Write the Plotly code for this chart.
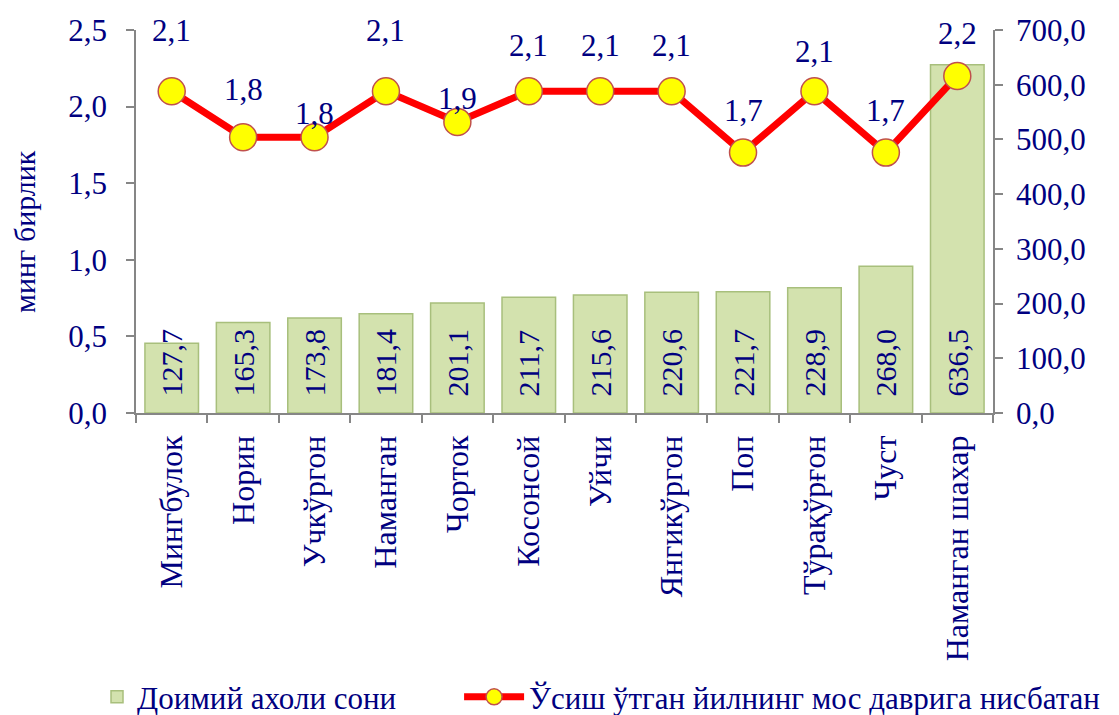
import plotly.graph_objects as go

categories = ["Мингбулок", "Норин", "Учкўргон", "Наманган", "Чорток", "Косонсой",
              "Уйчи", "Янгикўргон", "Поп", "Тўрақўрғон", "Чуст", "Наманган шахар"]
population = [127.7, 165.3, 173.8, 181.4, 201.1, 211.7, 215.6, 220.6, 221.7, 228.9, 268.0, 636.5]
growth = [2.1, 1.8, 1.8, 2.1, 1.9, 2.1, 2.1, 2.1, 1.7, 2.1, 1.7, 2.2]

bar_name = "Доимий ахоли сони"
line_name = "Ўсиш ўтган йилнинг мос даврига нисбатан"
y_title = "минг бирлик"

# label offsets (style) for line labels, in pixels
label_shift = [61, 48, 24, 61, 23, 46, 46, 46, 42, 40, 42, 42]

NAVY = "#000080"
FONT = "Liberation Serif"
AXIS = "#868686"
PAD = "\u00a0\u2009"  # lifts bar labels off the bar base


def fmt(v):
    return f"{v:.1f}".replace(".", ",")


fig = go.Figure()
fig.add_trace(go.Bar(
    x=categories, y=population, name=bar_name, yaxis="y",
    marker=dict(color="#D3E2AE", line=dict(color="#A8BF7C", width=1.5)),
    text=[PAD + fmt(v) for v in population],
    textposition="inside", insidetextanchor="start", textangle=-90,
    constraintext="none",
    textfont=dict(family=FONT, size=30, color=NAVY),
    cliponaxis=False, legend="legend",
))
fig.add_trace(go.Scatter(
    x=categories, y=growth, name=line_name, yaxis="y2",
    mode="lines+markers",
    line=dict(color="#FF0000", width=7),
    marker=dict(color="#FFFF00", size=27, line=dict(color="#C0504D", width=1.5)),
    cliponaxis=False, legend="legend2",
))

for c, g, s in zip(categories, growth, label_shift):
    fig.add_annotation(x=c, y=g, yref="y2", text=fmt(g),
                       showarrow=False, yshift=s,
                       font=dict(family=FONT, size=31, color=NAVY))

fig.add_annotation(xref="paper", yref="paper", x=-0.1295, y=0.4726,
                   xanchor="center", yanchor="middle",
                   text=y_title, textangle=-90, showarrow=False,
                   font=dict(family=FONT, size=30, color=NAVY))

fig.update_layout(
    width=1119, height=715,
    margin=dict(l=136, r=126, t=30, b=302, autoexpand=False),
    paper_bgcolor="white", plot_bgcolor="white",
    separators=", ",
    bargap=0.25,
    font=dict(family=FONT, size=30, color=NAVY),
    showlegend=True,
    legend=dict(orientation="h", x=-0.0455, xanchor="left", y=-0.742, yanchor="middle",
                font=dict(family=FONT, size=31, color=NAVY), itemwidth=30,
                bgcolor="rgba(0,0,0,0)"),
    legend2=dict(orientation="h", x=0.377, xanchor="left", y=-0.742, yanchor="middle",
                 font=dict(family=FONT, size=31, color=NAVY), itemwidth=60,
                 bgcolor="rgba(0,0,0,0)"),
    xaxis=dict(showline=True, linecolor=AXIS, linewidth=1.5, ticks="outside",
               tickson="boundaries", ticklen=8, tickcolor=AXIS, tickwidth=1.5,
               tickangle=-90, tickfont=dict(family=FONT, size=32, color=NAVY),
               ticklabelstandoff=8,
               range=[-0.5, len(categories) - 0.5],
               showgrid=False, automargin=False),
    yaxis=dict(side="right", range=[0, 700], dtick=100, tickformat=".1f",
               showline=True, linecolor=AXIS, linewidth=1.5, ticks="outside",
               ticklen=8, tickcolor=AXIS, tickwidth=1.5, showgrid=False, zeroline=False,
               automargin=False, ticklabelstandoff=7,
               tickfont=dict(family=FONT, size=31, color=NAVY)),
    yaxis2=dict(side="left", overlaying="y", range=[0, 2.5], dtick=0.5, tickformat=".1f",
                showline=True, linecolor=AXIS, linewidth=1.5, ticks="outside",
                ticklen=8, tickcolor=AXIS, tickwidth=1.5, showgrid=False, zeroline=False,
                automargin=False, ticklabelstandoff=13,
                tickfont=dict(family=FONT, size=31, color=NAVY)),
)

fig.write_html("out.html", config={"displayModeBar": False},
               post_script="document.body.style.margin='0';")
